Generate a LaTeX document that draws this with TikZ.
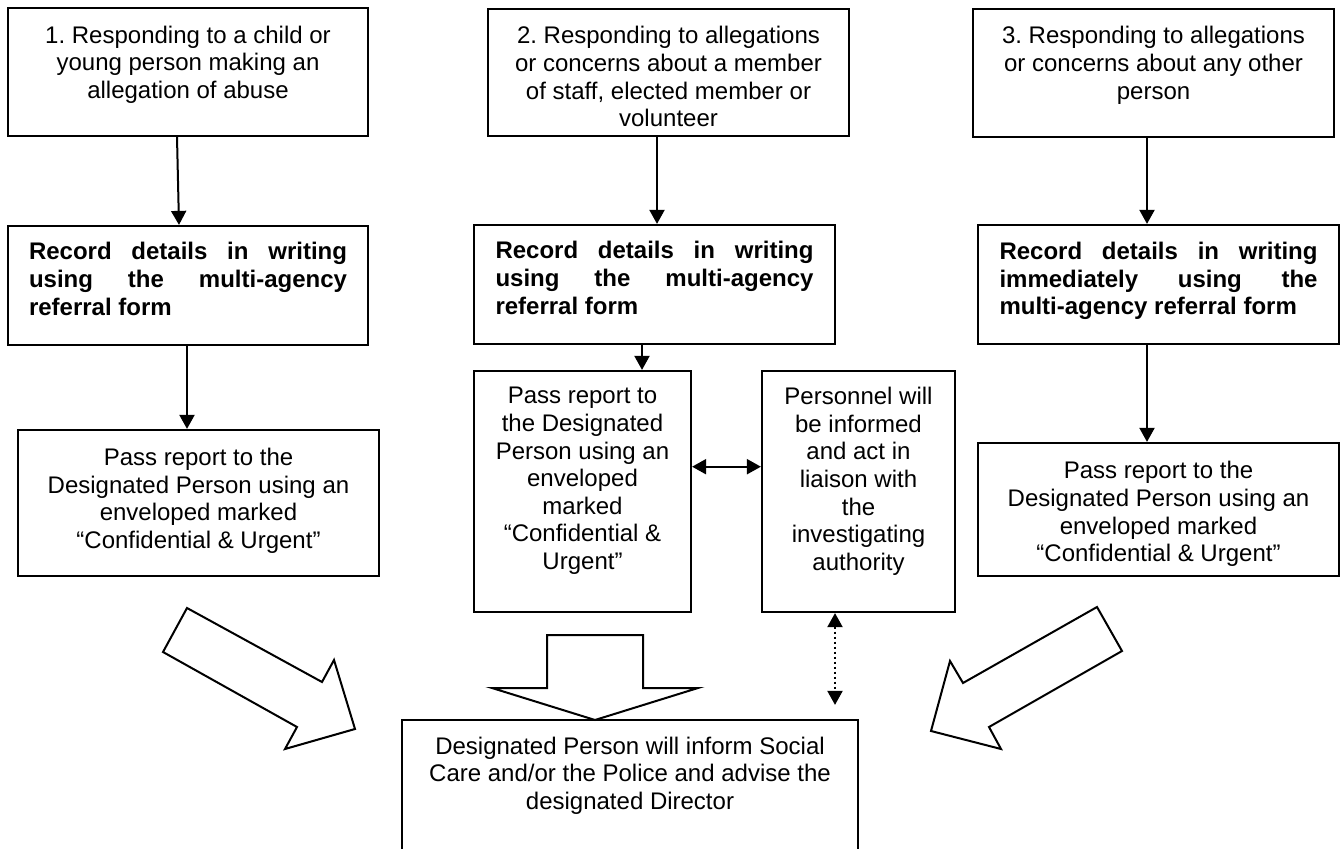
\documentclass[tikz,border=0pt]{standalone}
\usepackage{fontspec}
\setmainfont{Liberation Sans}
\usetikzlibrary{positioning,arrows.meta}
\tikzset{F node/.style={draw,line width=1.1pt,inner sep=0pt,font=\fontsize{12}{13.8}\selectfont\frenchspacing},
	F arrow/.style={line width=1pt,-{Triangle[length=7pt,width=7.5pt]}},
	F both/.style={line width=1pt,{Triangle[length=7pt,width=7.5pt]}-{Triangle[length=7pt,width=7.5pt]}},
	F block/.style={draw,line width=1pt,fill=white,line join=miter},}
\newcommand{\ftext}[4]{\parbox[c][#2][t]{#1}{\vspace*{#3}\centering #4\par}}
\newcommand{\fbold}[1]{\parbox[t]{159pt}{\bfseries\tolerance=10000 #1}}

\begin{document}
\begin{tikzpicture}[x=0.5pt,y=-0.5pt]
			\clip (0,0) rectangle (1343,849);

			\node[F node] (top1) at (188,72) {\ftext{180pt}{64pt}{9pt}{1. Responding to a child or\\ young person making an\\ allegation of abuse}};
			\node[F node] (top2) at (668.5,72.5) {\ftext{180.5pt}{63.5pt}{8.8pt}{2. Responding to allegations\\ or concerns about a member\\ of staff, elected member or\\ volunteer}};
			\node[F node] (top3) at (1153.5,73) {\ftext{180.5pt}{64pt}{8.8pt}{3. Responding to allegations\\ or concerns about any other\\ person}};

			\node[F node] (rec1) at (188,285.5) {\ftext{180pt}{59.5pt}{8.3pt}{\fbold{Record details in writing\linebreak using the multi-agency\linebreak referral form}}};
			\node[F node] (rec2) at (654.5,284.5) {\ftext{180.5pt}{59.5pt}{8.3pt}{\fbold{Record details in writing\linebreak using the multi-agency\linebreak referral form}}};
			\node[F node] (rec3) at (1158.5,284.5) {\ftext{180.5pt}{59.5pt}{8.6pt}{\fbold{Record details in writing\linebreak immediately using the\linebreak multi-agency referral form}}};

			\node[F node] (pass1) at (198.5,503) {\ftext{180.5pt}{73pt}{9.2pt}{Pass report to the\\ Designated Person using an\\ enveloped marked\\ “Confidential \& Urgent”}};
			\node[F node] (pass2) at (582.5,491.5) {\ftext{108.5pt}{120.5pt}{8.2pt}{Pass report to\\ the Designated\\ Person using an\\ enveloped\\ marked\\ “Confidential \&\\ Urgent”}};
			\node[F node] (pers) at (858.5,491.5) {\ftext{96.5pt}{120.5pt}{8.2pt}{Personnel will\\ be informed\\ and act in\\ liaison with\\ the\\ investigating\\ authority}};
			\node[F node] (pass3) at (1158.5,509.5) {\ftext{180.5pt}{66.5pt}{9.3pt}{Pass report to the\\ Designated Person using an\\ enveloped marked\\ “Confidential \& Urgent”}};

			% block arrows into the last box
			\draw[F block] (187,608) -- (322,682) -- (334,660) -- (355,729) -- (285,749) -- (297,727) -- (163,652) -- cycle;
			\draw[F block] (1097,607) -- (963,683) -- (950,661) -- (931,731) -- (1001,749) -- (989,727) -- (1122,651) -- cycle;
			\draw[F block] (547,635) -- (643,635) -- (643,688) -- (698,688) -- (595,720) -- (492,688) -- (547,688) -- cycle;

			\node[F node] (final) at (630,800) {\ftext{228pt}{80pt}{8.5pt}{Designated Person will inform Social\\ Care and/or the Police and advise the\\ designated Director}};

			\draw[F arrow] ([xshift=-5.5pt]top1.south) -- ([xshift=-4.5pt]rec1.north);
			\draw[F arrow] ([xshift=-0.5pt]rec1.south) -- ([xshift=-5.75pt]pass1.north);
			\draw[F arrow] ([xshift=-5.75pt]top2.south) -- ([xshift=-5.75pt]top2.south |- rec2.north);
			\draw[F arrow] ([xshift=-6.25pt]rec2.south) -- ([xshift=-6.25pt]rec2.south |- pass2.north);
			\draw[F arrow] ([xshift=-3.25pt]top3.south) -- ([xshift=-3.25pt]top3.south |- rec3.north);
			\draw[F arrow] ([xshift=-5.75pt]rec3.south) -- ([xshift=-5.75pt]rec3.south |- pass3.north);
			\draw[F both] ([yshift=12.4pt]pass2.east) -- ([yshift=12.4pt]pers.west);
			\draw[F both,dash pattern=on 1pt off 1.5pt] ([xshift=-11.75pt]pers.south) -- ([xshift=-11.75pt,yshift=7pt]pers.south |- final.north);
		\end{tikzpicture}
\end{document}
